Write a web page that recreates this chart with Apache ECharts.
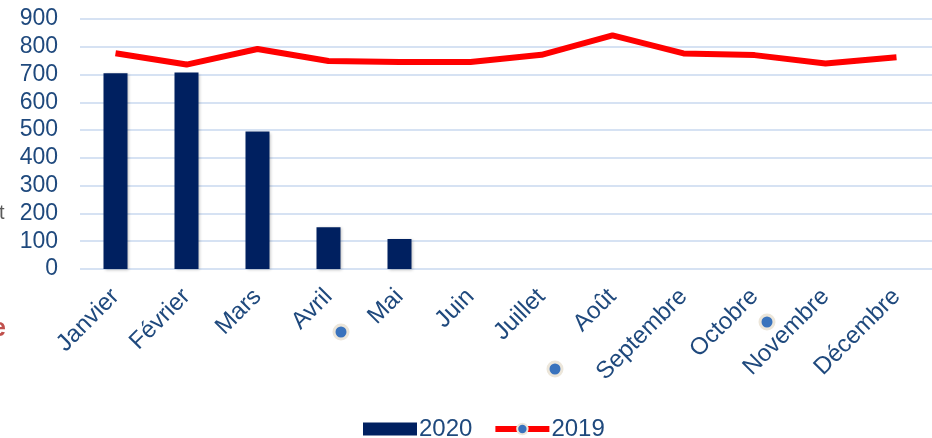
<!DOCTYPE html>
<html>
<head>
<meta charset="utf-8">
<script src="https://cdn.jsdelivr.net/npm/echarts@6/dist/echarts.min.js"></script>
<style>html,body{margin:0;padding:0;background:#fff;}#c{width:932px;height:438px;}</style>
</head>
<body>
<div id="c"></div>
<script>
const categories = ['Janvier','Février','Mars','Avril','Mai','Juin','Juillet','Août','Septembre','Octobre','Novembre','Décembre'];
const values2020 = [705, 707, 495, 150, 108, null, null, null, null, null, null, null];
const values2019 = [777, 736, 792, 749, 745, 745, 771, 841, 776, 770, 740, 762];
const yTicks = [0, 100, 200, 300, 400, 500, 600, 700, 800, 900];

const txt = '#1f497d';
const chart = echarts.init(document.getElementById('c'));
chart.setOption({
  animation: false,
  textStyle: { fontFamily: 'Liberation Sans, Arial, sans-serif' },
  grid: { left: 80, top: 19, width: 854, height: 250, containLabel: false },
  legend: {
    top: 412, left: 358, itemGap: 20, itemWidth: 54, itemHeight: 13,
    textStyle: { color: txt, fontSize: 24, padding: [0, 0, 0, -3] },
    data: [
      { name: '2020', icon: 'rect' },
      { name: '2019', lineStyle: { width: 6, color: '#ff0000' } }
    ]
  },
  xAxis: {
    type: 'category', data: categories,
    axisLine: { show: false }, axisTick: { show: false },
    axisLabel: { rotate: 45, color: txt, fontSize: 24, interval: 0, margin: 24 }
  },
  yAxis: {
    type: 'value', min: 0, max: 900, interval: 100,
    axisLine: { show: false }, axisTick: { show: false },
    axisLabel: { color: txt, fontSize: 23, margin: 22,
      formatter: v => yTicks.includes(v) ? String(v) : '' },
    splitLine: { lineStyle: { color: '#d6e2f3', width: 2 } }
  },
  series: [
    { name: '2020', type: 'bar', data: values2020, barWidth: 24,
      itemStyle: { color: '#002060', shadowColor: 'rgba(0,0,0,0.25)', shadowBlur: 3, shadowOffsetX: 1, shadowOffsetY: 1 } },
    { name: '2019', type: 'line', data: values2019, showSymbol: false, symbol: 'circle', symbolSize: 15,
      itemStyle: { color: '#3a73bd', borderColor: '#ece6da', borderWidth: 2 },
      lineStyle: { color: '#ff0000', width: 6 }, z: 3 }
  ],
  graphic: [
    { type: 'text', left: -1, top: 203, style: { text: 't', fill: '#595959', font: '20px Liberation Sans' } },
    { type: 'text', left: -8, top: 317, style: { text: 'e', fill: '#c0504d', font: 'bold 25px Liberation Sans' } },
    { type: 'circle', shape: { cx: 341, cy: 332, r: 7 }, style: { fill: '#3a73bd', stroke: '#ece6da', lineWidth: 3 } },
    { type: 'circle', shape: { cx: 555, cy: 369, r: 7 }, style: { fill: '#3a73bd', stroke: '#ece6da', lineWidth: 3 } },
    { type: 'circle', shape: { cx: 767, cy: 322, r: 7 }, style: { fill: '#3a73bd', stroke: '#ece6da', lineWidth: 3 } }
  ]
});
</script>
</body>
</html>
